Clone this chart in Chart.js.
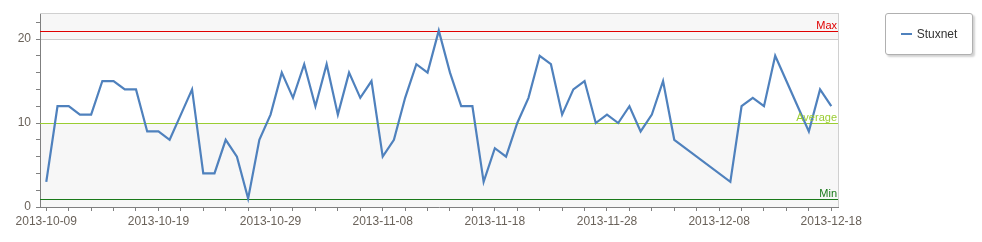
<!DOCTYPE html>
<html>
<head>
<meta charset="utf-8">
<script src="https://cdn.jsdelivr.net/npm/chart.js@4.4.0/dist/chart.umd.min.js"></script>
<style>
  body { margin: 0; background: #fff; }
  #wrap { position: relative; width: 982px; height: 242px; }
  #legend {
    position: absolute; left: 885px; top: 13px; width: 86px; height: 40px;
    border: 1px solid #b0b0b0; border-radius: 3px; background: #fff;
    box-shadow: 2px 2px 2px rgba(0,0,0,0.18);
    font: 12px "Liberation Sans", sans-serif; color: #333;
    display: flex; align-items: center; justify-content: center;
  }
  #legend .swatch { display: inline-block; width: 11px; height: 2px; background: #4f81bd; margin-right: 5px; }
</style>
</head>
<body>
<div id="wrap">
  <canvas id="chart" width="982" height="242"></canvas>
  <div id="legend"></div>
</div>
<script>
const seriesName = "Stuxnet";

const dates = [
  "2013-10-09", "2013-10-10", "2013-10-11", "2013-10-12", "2013-10-13", "2013-10-14",
  "2013-10-15", "2013-10-16", "2013-10-17", "2013-10-18", "2013-10-19", "2013-10-20",
  "2013-10-21", "2013-10-22", "2013-10-23", "2013-10-24", "2013-10-25", "2013-10-26",
  "2013-10-27", "2013-10-28", "2013-10-29", "2013-10-30", "2013-10-31",
  "2013-11-01", "2013-11-02", "2013-11-03", "2013-11-04", "2013-11-05", "2013-11-06",
  "2013-11-07", "2013-11-08", "2013-11-09", "2013-11-10", "2013-11-11", "2013-11-12",
  "2013-11-13", "2013-11-14", "2013-11-15", "2013-11-16", "2013-11-17", "2013-11-18",
  "2013-11-19", "2013-11-20", "2013-11-21", "2013-11-22", "2013-11-23", "2013-11-24",
  "2013-11-25", "2013-11-26", "2013-11-27", "2013-11-28", "2013-11-29", "2013-11-30",
  "2013-12-01", "2013-12-02", "2013-12-03", "2013-12-04",
  "2013-12-09", "2013-12-10", "2013-12-11", "2013-12-12", "2013-12-13", "2013-12-14",
  "2013-12-15", "2013-12-16", "2013-12-17", "2013-12-18",
];
const values = [
  3, 12, 12, 11, 11, 15,
  15, 14, 14, 9, 9, 8,
  11, 14, 4, 4, 8, 6,
  1, 8, 11, 16, 13,
  17, 12, 17, 11, 16, 13,
  15, 6, 8, 13, 17, 16,
  21, 16, 12, 12, 3, 7,
  6, 10, 13, 18, 17, 11,
  14, 15, 10, 11, 10, 12,
  9, 11, 15, 8,
  3, 12, 13, 12, 18, 15,
  12, 9, 14, 12,
];

const xTickLabels = ["2013-10-09", "2013-10-19", "2013-10-29", "2013-11-08", "2013-11-18", "2013-11-28", "2013-12-08", "2013-12-18"];
const yTickLabels = [0, 10, 20];

const refLabels = ["Max", "Average", "Min"];
const refValues = [21, 10, 1];
const refColors = ["#e00000", "#9acd32", "#1a7a1a"];

const DAY = 86400000;
const start = Date.parse(dates[0]);
const points = dates.map((d, i) => ({ x: (Date.parse(d) - start) / DAY, y: values[i] }));

document.getElementById("legend").innerHTML = '<span class="swatch"></span>' + seriesName;

Chart.defaults.font.family = '"Liberation Sans", sans-serif';
Chart.defaults.font.size = 12;
Chart.defaults.color = "#6a625a";

// interlaced bands + top/right frame
const bands = {
  id: "bands",
  beforeDraw(chart) {
    const { ctx, chartArea: a, scales: { y } } = chart;
    ctx.save();
    ctx.fillStyle = "#fff";
    ctx.fillRect(a.left, a.top, a.right - a.left, a.bottom - a.top);
    ctx.fillStyle = "#f7f7f7";
    for (let v = 0; v < y.max; v += 20) {
      const top = Math.max(y.getPixelForValue(Math.min(v + 10, y.max)), a.top);
      const bot = y.getPixelForValue(v);
      ctx.fillRect(a.left, top, a.right - a.left, bot - top);
    }
    ctx.restore();
  },
  afterDraw(chart) {
    const { ctx, chartArea: a } = chart;
    ctx.save();
    ctx.fillStyle = "#d0d0d0";
    ctx.fillRect(a.left, Math.round(a.top), a.right - a.left, 1);
    ctx.fillRect(Math.round(a.right), a.top, 1, a.bottom - a.top);
    ctx.restore();
  },
};

// constant lines for max / average / min
const refLines = {
  id: "refLines",
  beforeDatasetsDraw(chart) {
    const { ctx, chartArea: a, scales: { y } } = chart;
    ctx.save();
    refValues.forEach((v, i) => {
      const py = Math.round(y.getPixelForValue(v));
      ctx.fillStyle = refColors[i];
      ctx.fillRect(a.left, py, a.right - a.left, 1);
    });
    ctx.restore();
  },
  afterDatasetsDraw(chart) {
    const { ctx, chartArea: a, scales: { y } } = chart;
    ctx.save();
    ctx.font = '11px "Liberation Sans", sans-serif';
    ctx.textAlign = "right";
    ctx.textBaseline = "alphabetic";
    refValues.forEach((v, i) => {
      const py = Math.round(y.getPixelForValue(v));
      ctx.fillStyle = refColors[i];
      ctx.fillText(refLabels[i], a.right - 1, py - 2);
    });
    ctx.restore();
  },
};

new Chart(document.getElementById("chart"), {
  type: "line",
  data: {
    datasets: [
      {
        label: seriesName,
        data: points,
        borderColor: "#4f81bd",
        borderWidth: 2.2,
        pointRadius: 0,
        tension: 0,
        fill: false,
      },
    ],
  },
  options: {
    responsive: false,
    animation: false,
    layout: { padding: { top: 13, right: 144, left: 0, bottom: 0 } },
    plugins: {
      legend: { display: false },
      tooltip: { enabled: false },
    },
    scales: {
      x: {
        type: "linear",
        min: -0.56,
        max: 70.6,
        afterBuildTicks(scale) {
          const t = [];
          for (let v = 0; v <= 70; v += 2) t.push({ value: v });
          scale.ticks = t;
        },
        afterFit(scale) { scale.height = 35; },
        ticks: {
          autoSkip: false,
          maxRotation: 0,
          padding: 3,
          callback: (v) => (v % 10 === 0 ? xTickLabels[v / 10] : ""),
        },
        grid: { drawOnChartArea: false, tickLength: 4, tickColor: "#808080" },
        border: { color: "#7f7f7f" },
      },
      y: {
        min: 0,
        max: 23.1,
        afterBuildTicks(scale) {
          const t = [];
          for (let v = 0; v <= 22; v += 2) t.push({ value: v });
          scale.ticks = t;
        },
        afterFit(scale) { scale.width = 40; },
        ticks: {
          autoSkip: false,
          padding: 5,
          callback: (v) => (yTickLabels.includes(v) ? String(v) : ""),
        },
        grid: {
          tickLength: 4,
          tickColor: "#808080",
          color: (c) => (c.tick && c.tick.value === 20 ? "#cccccc" : "transparent"),
        },
        border: { color: "#7f7f7f" },
      },
    },
  },
  plugins: [bands, refLines],
});
</script>
</body>
</html>
